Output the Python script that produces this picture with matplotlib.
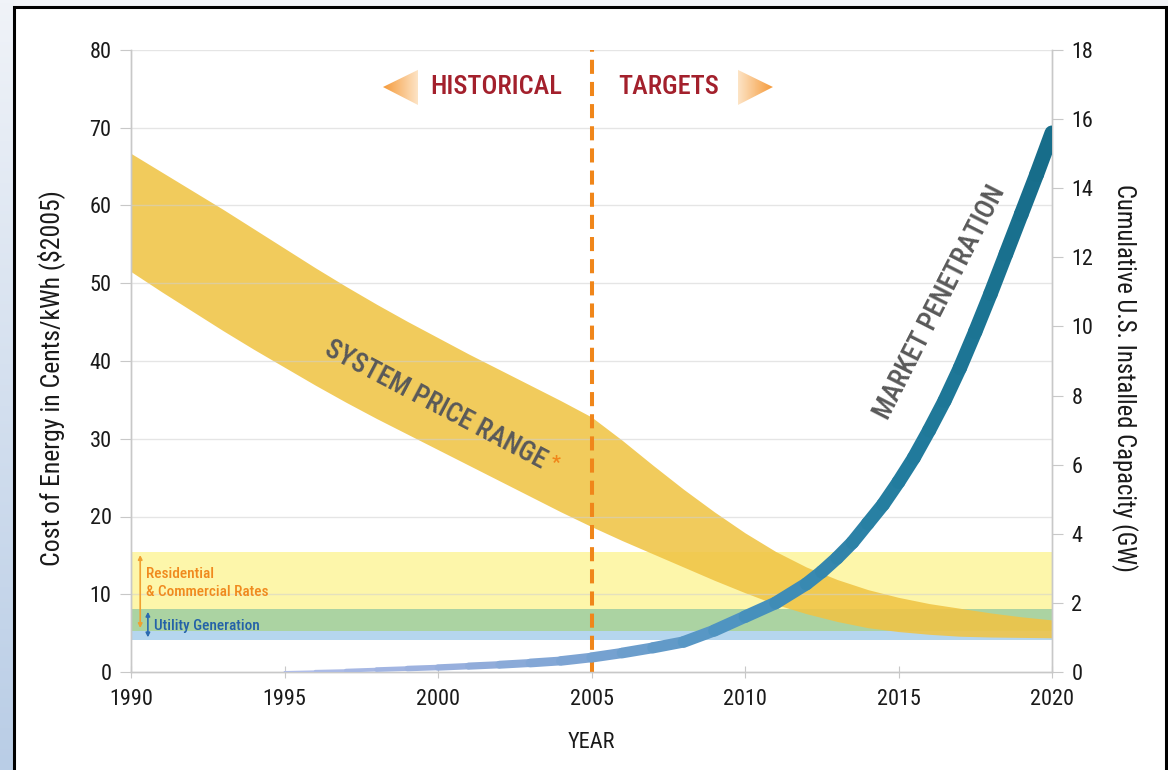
import numpy as np
import matplotlib
matplotlib.use("Agg")
import matplotlib.pyplot as plt
from matplotlib.patches import Rectangle, Polygon
from matplotlib.collections import LineCollection
from matplotlib import font_manager

# ---------------- data ----------------
years_price = [1990, 1991, 1992, 1993, 1994, 1995, 1996, 1997, 1998, 1999, 2000,
               2001, 2002, 2003, 2004, 2005, 2006, 2007, 2008, 2009, 2010,
               2011, 2012, 2013, 2014, 2015, 2016, 2017, 2018, 2019, 2020]
price_high = [66.7, 64.3, 61.9, 59.5, 57.0, 54.5, 52.0, 49.6, 47.3, 45.1, 43.0,
              40.9, 38.9, 36.9, 34.9, 32.8, 29.8, 26.6, 23.5, 20.6, 17.9,
              15.5, 13.5, 11.9, 10.6, 9.6, 8.8, 8.2, 7.6, 7.1, 6.7]
price_low = [51.5, 48.9, 46.4, 43.9, 41.5, 39.2, 36.9, 34.7, 32.6, 30.6, 28.6,
             26.6, 24.6, 22.6, 20.6, 18.7, 16.9, 15.2, 13.5, 11.8, 10.2,
             8.7, 7.5, 6.5, 5.7, 5.2, 4.85, 4.6, 4.5, 4.45, 4.4]

years_market = [1995, 1996, 1997, 1998, 1999, 2000, 2001, 2002, 2003, 2004, 2005,
                2006, 2007, 2008, 2009, 2010, 2011, 2012, 2012.5, 2013, 2013.5,
                2014, 2014.5, 2015, 2015.5, 2016, 2016.5, 2017, 2017.5, 2018,
                2018.5, 2019, 2019.5, 2020]
market_gw = [0.0, 0.02, 0.04, 0.07, 0.10, 0.13, 0.17, 0.21, 0.26, 0.32, 0.42,
             0.55, 0.70, 0.87, 1.2, 1.6, 2.0, 2.55, 2.9, 3.3, 3.75,
             4.3, 4.85, 5.5, 6.2, 7.0, 7.85, 8.8, 9.85, 10.95,
             12.1, 13.25, 14.4, 15.6]

residential_range = [5.3, 15.4]   # cents/kWh
utility_range = [4.1, 8.1]        # cents/kWh
divider_year = 2005

x_ticks = [1990, 1995, 2000, 2005, 2010, 2015, 2020]
left_ticks = [0, 10, 20, 30, 40, 50, 60, 70, 80]
right_ticks = [0, 2, 4, 6, 8, 10, 12, 14, 16, 18]

# ---------------- fonts ----------------
ttf = font_manager.fontManager.ttflist
names = {f.name for f in ttf}
stretch = 'normal'
if 'Liberation Sans Narrow' in names:
    base = 'Liberation Sans Narrow'
elif 'Roboto Condensed' in names:
    base = 'Roboto Condensed'
elif any(f.name == 'DejaVu Sans' and 'Condensed' in f.fname for f in ttf):
    base = 'DejaVu Sans'
    stretch = 'condensed'
else:
    base = 'Liberation Sans'
plt.rcParams['font.family'] = [base, 'DejaVu Sans']
plt.rcParams['font.stretch'] = stretch
MED = 'medium'

W, H = 1168, 770
fig = plt.figure(figsize=(W / 100, H / 100), dpi=100)
fig.patch.set_facecolor('#f2f4f8')

# left gradient strip outside frame
bg = fig.add_axes([0, 0, 14 / W, 1], zorder=-5)
bg.imshow(np.linspace(0, 1, 256).reshape(-1, 1), cmap=matplotlib.colors.LinearSegmentedColormap.from_list(
    'bgc', ['#f0f3f8', '#b9cde6']), aspect='auto', extent=[0, 1, 0, 1], origin='upper')
bg.set_axis_off()

# framed white panel
fig.patches.append(Rectangle((13.5 / W, -0.05), (1165.5 - 13.5) / W, (770 - 6.5) / H + 0.05,
                             transform=fig.transFigure, facecolor='white', edgecolor='black',
                             linewidth=2.2, zorder=-4))

ax = fig.add_axes([131 / W, 1 - 672 / H, (1052 - 131) / W, (672 - 50) / H])
ax.set_facecolor('none')
ax2 = ax.twinx()

# horizontal rate bands
yellow = '#fdf6aa'
green = '#abd3a2'
blue = '#b5d6ee'
ax.axhspan(residential_range[0], residential_range[1], color=yellow, zorder=1, lw=0)
ax.axhspan(utility_range[0], utility_range[1], color=blue, zorder=1, lw=0)
ax.axhspan(max(residential_range[0], utility_range[0]), min(residential_range[1], utility_range[1]),
           color=green, zorder=1, lw=0)

# price range band
ax.fill_between(years_price, price_low, price_high, color='#f0c445', alpha=0.88, lw=0, zorder=2)

# gridlines
for t in left_ticks[1:]:
    ax.axhline(t, color='#d0d0d0', lw=1.0, alpha=0.55, zorder=3)

# divider
ax.axvline(divider_year, color='#f0861a', lw=2.9, dashes=(3.5, 2.0), zorder=5)

# spines / ticks
for a in (ax, ax2):
    for s in a.spines.values():
        s.set_color('#c8c8c8')
        s.set_linewidth(1.0)
    a.spines['top'].set_visible(False)

ax.set_xticks(x_ticks)
ax.set_yticks(left_ticks)
ax2.set_yticks(right_ticks)
ax.tick_params(axis='y', direction='out', length=8, color='#c8c8c8', labelsize=16, pad=6,
               labelcolor='#1a1a1a')
ax.tick_params(axis='x', direction='inout', length=8, color='#c8c8c8', labelsize=16, pad=8,
               labelcolor='#1a1a1a')
ax2.tick_params(axis='y', direction='out', length=8, color='#c8c8c8', labelsize=16, pad=6,
                labelcolor='#1a1a1a')

ax.set_xlabel('YEAR', fontsize=16, color='#1a1a1a', labelpad=16)
ax.set_ylabel('Cost of Energy in Cents/kWh ($2005)', fontsize=18.5, color='#1a1a1a')
ax.yaxis.set_label_coords(-0.0717, 0.473)
ax2.set_ylabel('Cumulative U.S. Installed Capacity (GW)', fontsize=17.7, color='#1a1a1a',
               rotation=270)
ax2.yaxis.set_label_coords(1.0934, 0.473)

# market penetration curve, tapered and colour graded
cmap_line = matplotlib.colors.LinearSegmentedColormap.from_list(
    'mp', ['#b4c0ea', '#9ab0de', '#7aa3d2', '#4a92bf', '#237d9f', '#166c89'])
xs = np.array(years_market, dtype=float)
ys = np.array(market_gw, dtype=float)
pts = np.column_stack([xs, ys]).reshape(-1, 1, 2)
segs = np.concatenate([pts[:-1], pts[1:]], axis=1)
mid = (xs[:-1] + xs[1:]) / 2
frac = (mid - xs[0]) / (xs[-1] - xs[0])
width_px = np.interp(mid, [1995, 2000, 2005, 2010, 2020], [1.5, 6.0, 10.0, 12.5, 15.0])
lc = LineCollection(segs, colors=cmap_line(frac), linewidths=width_px * 0.72, capstyle='round',
                    joinstyle='round', zorder=6)
ax2.add_collection(lc)
ax2.set_zorder(ax.get_zorder() + 1)
ax2.patch.set_visible(False)

# arrows around header
def grad_triangle(axis, verts, tip_left):
    poly = Polygon(verts, closed=True, transform=axis.transAxes, facecolor='none', edgecolor='none')
    axis.add_patch(poly)
    g = np.linspace(0, 1, 128).reshape(1, -1)
    if tip_left:
        g = g[:, ::-1]
    cm = matplotlib.colors.LinearSegmentedColormap.from_list('tri', ['#fde4c6', '#f59a3a'])
    xs_ = [v[0] for v in verts]
    ys_ = [v[1] for v in verts]
    im = axis.imshow(g, cmap=cm, aspect='auto', extent=[min(xs_), max(xs_), min(ys_), max(ys_)],
                     transform=axis.transAxes, zorder=7)
    im.set_clip_path(poly)

grad_triangle(ax2, [(0.2736, 0.9405), (0.3116, 0.968), (0.3116, 0.9116)], tip_left=True)
grad_triangle(ax2, [(0.697, 0.9405), (0.659, 0.968), (0.659, 0.9116)], tip_left=False)
ax.set_xlim(1990, 2020)
ax.set_ylim(0, 80)
ax2.set_ylim(0, 18)

ax2.text(0.397, 0.9405, 'HISTORICAL', transform=ax2.transAxes, ha='center', va='center',
         fontsize=19, color='#a3202c', fontweight=MED)
ax2.text(0.584, 0.9405, 'TARGETS', transform=ax2.transAxes, ha='center', va='center',
         fontsize=19, color='#a3202c', fontweight=MED)

# band labels
ax2.text(1999.93, 34.3 * 18 / 80, 'SYSTEM PRICE RANGE', rotation=-27.8, rotation_mode='anchor',
         ha='center', va='center', fontsize=19.5, color='#595959', zorder=8, fontweight=MED)
ax2.text(2003.85, 26.9 * 18 / 80, '*', ha='center', va='center', fontsize=14, color='#f0861a',
         zorder=8, fontweight='bold')
ax2.text(2016.35, 47.6 * 18 / 80, 'MARKET PENETRATION', rotation=63, rotation_mode='anchor',
         ha='center', va='center', fontsize=19.5, color='#595959', zorder=8, fontweight=MED)

# rate labels with double arrows
ax.annotate('', xy=(1990.3, residential_range[1]), xytext=(1990.3, residential_range[0]),
            arrowprops=dict(arrowstyle='<|-|>', color='#f0a030', lw=1.2, mutation_scale=6), zorder=8)
ax.annotate('', xy=(1990.55, utility_range[1]), xytext=(1990.55, utility_range[0]),
            arrowprops=dict(arrowstyle='<|-|>', color='#2a6ab0', lw=1.2, mutation_scale=6), zorder=8)
ax.text(1990.5, 12.6, 'Residential', fontsize=11, color='#f08a1e', ha='left', va='center',
        zorder=8, fontweight=MED)
ax.text(1990.5, 10.3, '& Commercial Rates', fontsize=11, color='#f08a1e', ha='left', va='center',
        zorder=8, fontweight=MED)
ax.text(1990.75, 5.9, 'Utility Generation', fontsize=11, color='#2462a8', ha='left', va='center',
        zorder=8, fontweight=MED)

fig.savefig('out.png', dpi=100, facecolor=fig.get_facecolor())
